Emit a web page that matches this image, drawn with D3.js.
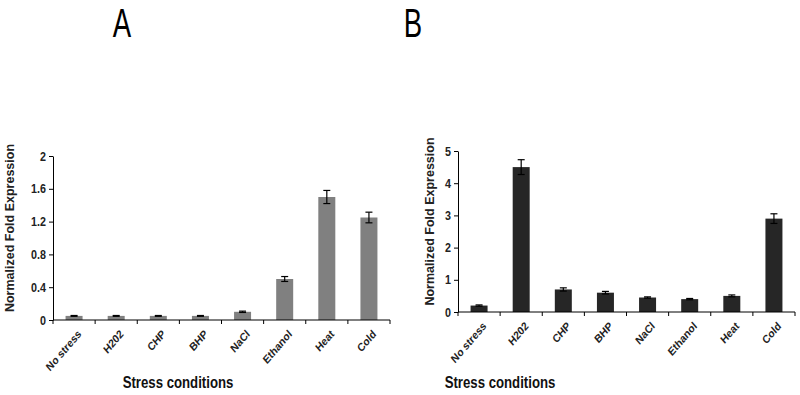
<!DOCTYPE html>
<html>
<head>
<meta charset="utf-8">
<script src="https://cdn.jsdelivr.net/npm/d3@7"></script>
<style>
body{margin:0;background:#fff;}
svg{display:block;font-family:"Liberation Sans",Arial,sans-serif;}
</style>
</head>
<body>
<script>
// categories and values
var categories = ["No stress","H202","CHP","BHP","NaCl","Ethanol","Heat","Cold"];
var valuesA = [0.05,0.05,0.05,0.05,0.1,0.5,1.5,1.25];
var errorsA = [0.005,0.005,0.005,0.005,0.008,0.03,0.08,0.065];
var valuesB = [0.2,4.5,0.7,0.6,0.45,0.4,0.5,2.9];
var errorsB = [0.02,0.23,0.05,0.04,0.02,0.02,0.03,0.15];
var ticksA = [0,0.4,0.8,1.2,1.6,2];
var ticksB = [0,1,2,3,4,5];

var svg = d3.select("body").append("svg")
	.attr("width",800).attr("height",395);

drawPanel = function(opt){
	var band = d3.scaleBand().domain(categories).range([opt.x0,opt.x1]);
	var y = d3.scaleLinear().domain([0,opt.max]).range([opt.y1,opt.y0]);
	var g = svg.append("g");
	var mid = function(i){return band(categories[i]) + band.bandwidth()/2;};

	// bars
	g.selectAll("rect.bar").data(opt.values).enter().append("rect")
		.attr("class","bar")
		.attr("x",function(d,i){return mid(i) - 8.5;})
		.attr("width",17)
		.attr("y",function(d){return y(d);})
		.attr("height",function(d){return y(0)-y(d);})
		.attr("fill",opt.color);

	// error bars
	var eb = g.selectAll("g.err").data(opt.values).enter().append("g")
		.attr("transform",function(d,i){return "translate("+mid(i)+",0)";});
	eb.append("line").attr("x1",0).attr("x2",0)
		.attr("y1",function(d,i){return y(d-opt.errors[i]);})
		.attr("y2",function(d,i){return y(d+opt.errors[i]);});
	eb.append("line").attr("x1",-3.5).attr("x2",3.5)
		.attr("y1",function(d,i){return y(d+opt.errors[i]);})
		.attr("y2",function(d,i){return y(d+opt.errors[i]);});
	eb.append("line").attr("x1",-3.5).attr("x2",3.5)
		.attr("y1",function(d,i){return y(d-opt.errors[i]);})
		.attr("y2",function(d,i){return y(d-opt.errors[i]);});
	eb.selectAll("line").attr("stroke","#000").attr("stroke-width",1.2);

	// y axis
	var ya = g.append("g").attr("transform","translate("+opt.x0+",0)")
		.call(d3.axisLeft(y).tickValues(opt.ticks).tickSize(4).tickSizeOuter(0).tickFormat(d3.format("")));
	ya.select(".domain").attr("stroke","#000");
	ya.selectAll(".tick line").attr("stroke","#000");
	ya.selectAll("text")
		.attr("font-size",12.5).attr("font-weight","bold").attr("fill","#222")
		.attr("font-family","Liberation Sans, Arial, sans-serif")
		.attr("x",null)
		.attr("transform","translate(-7,0) scale(0.86,1)");

	// x axis with ticks between categories
	var xa = g.append("g").attr("transform","translate(0,"+opt.y1+")");
	xa.append("line").attr("x1",opt.x0).attr("x2",opt.x1).attr("stroke","#000");
	var edges = categories.map(function(c){return band(c);}).concat([opt.x1]);
	xa.selectAll("line.tk").data(edges).enter().append("line")
		.attr("x1",function(d){return d;}).attr("x2",function(d){return d;})
		.attr("y1",0).attr("y2",4).attr("stroke","#000");
	xa.selectAll("text").data(categories).enter().append("text")
		.attr("transform",function(c,i){return "translate("+(mid(i)+3)+",9) scale(0.86,1) rotate(-45)";})
		.attr("text-anchor","end")
		.attr("dy","0.7em")
		.attr("font-size",11.5).attr("font-weight","bold").attr("fill","#222")
		.text(function(c){return c;});

	// titles
	svg.append("text")
		.attr("transform","translate("+opt.ylabX+","+((opt.y0+opt.y1)/2-10)+") rotate(-90)")
		.attr("text-anchor","middle").attr("font-size",12.5).attr("font-weight","bold").attr("fill","#222")
		.text("Normalized Fold Expression");
	svg.append("text")
		.attr("transform","translate("+opt.xlabX+",388) scale(0.8,1)")
		.attr("text-anchor","middle").attr("font-size",16.5).attr("font-weight","bold").attr("fill","#111")
		.text("Stress conditions");
	svg.append("text")
		.attr("transform","translate("+opt.letterX+",37) scale(0.69,1)")
		.attr("text-anchor","middle").attr("font-size",40)
		.text(opt.letter);
};

main = function(){
	drawPanel({x0:53,x1:390,y0:156,y1:320,max:2,values:valuesA,errors:errorsA,ticks:ticksA,
		color:"#808080",ylabX:14,xlabX:178,letterX:122,letter:"A"});
	drawPanel({x0:458,x1:795,y0:151,y1:312,max:5,values:valuesB,errors:errorsB,ticks:ticksB,
		color:"#262626",ylabX:434,xlabX:500,letterX:413,letter:"B"});
};
main();
</script>
</body>
</html>
